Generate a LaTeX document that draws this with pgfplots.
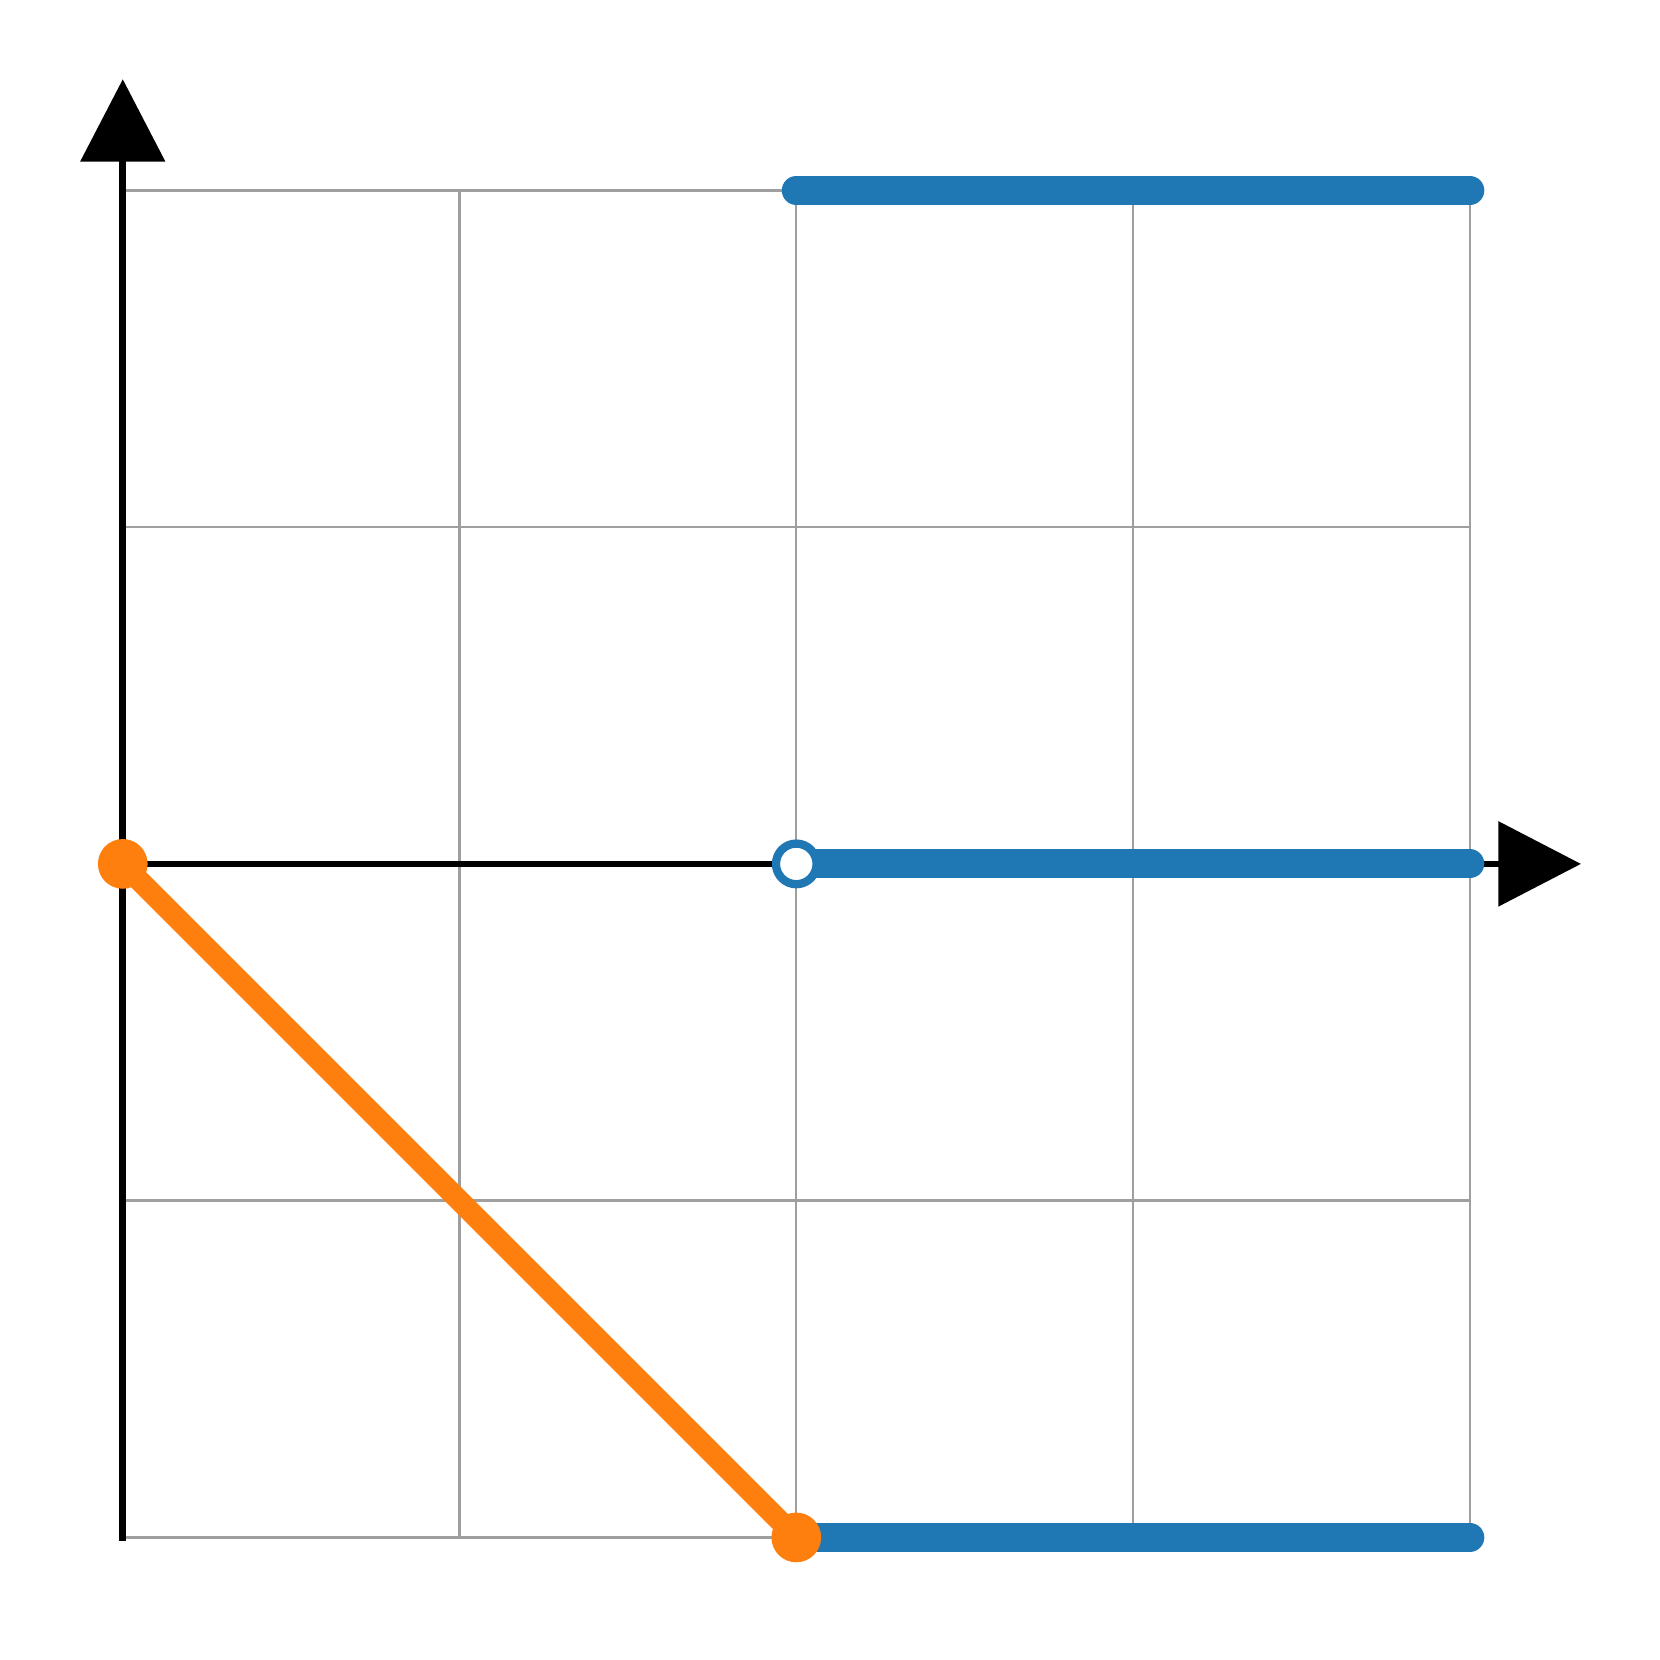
\documentclass[border=0pt]{standalone}
\usepackage{pgfplots}
\pgfplotsset{compat=1.18}
\usetikzlibrary{arrows.meta}

\definecolor{mplblue}{HTML}{1F77B4}
\definecolor{mplorange}{HTML}{FF7F0E}

\begin{document}
\begin{tikzpicture}
\begin{axis}[
    scale only axis,
    width=12cm, height=12cm,
    xmin=0, xmax=2,
    ymin=-1, ymax=1,
    axis lines=middle,
    xtick={0,0.5,...,2},
    ytick={-1,-0.5,...,1},
    xticklabels={}, yticklabels={},
    major tick length=0pt,
    grid=major,
    major grid style={gray!75, line width=0.6pt},
    every inner x axis line/.append style={line width=1.7pt,
        -{Triangle[length=20.9pt, width=21.2pt]}, shorten >=-0.99cm},
    every inner y axis line/.append style={line width=1.7pt,
        -{Triangle[length=20.9pt, width=21.2pt]}, shorten >=-0.99cm,
        shorten <=-0.03cm},
    clip=false,
]
% blue segments, x >= 1
\addplot[mplblue, line width=7.35pt, line cap=round] coordinates {(1,1) (2,1)};
\addplot[mplblue, line width=7.35pt, line cap=round] coordinates {(1,0) (2,0)};
\addplot[mplblue, line width=7.35pt, line cap=round] coordinates {(1,-1) (2,-1)};
% open end at (1,0)
\addplot[only marks, mark=*, mark size=5.15pt,
    mark options={fill=white, draw=mplblue, line width=2.1pt}] coordinates {(1,0)};
% orange segment, 0 <= x <= 1
\addplot[mplorange, line width=5.4pt] coordinates {(0,0) (1,-1)};
\addplot[only marks, mark=*, mark size=6.1pt, color=mplorange,
    mark options={fill=mplorange}] coordinates {(0,0) (1,-1)};

\coordinate (bl) at (axis cs:-0.1823,-1.1820);
\coordinate (tr) at (axis cs:2.2824,1.2827);
\end{axis}
\pgfresetboundingbox
\path (bl) rectangle (tr);
\end{tikzpicture}
\end{document}
